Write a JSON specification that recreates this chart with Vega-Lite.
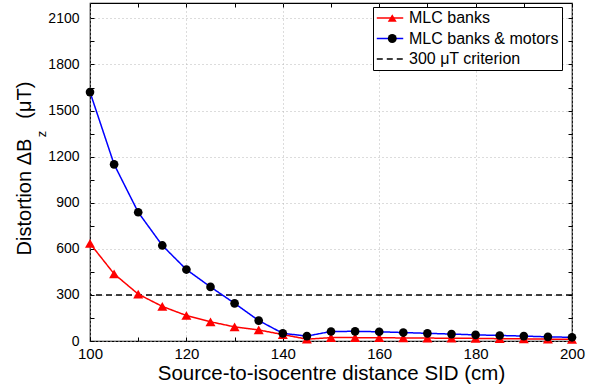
{
  "$schema": "https://vega.github.io/schema/vega-lite/v6.json",
  "width": 482,
  "height": 338,
  "autosize": {"type": "none"},
  "padding": {"left": 90, "top": 3, "right": 26, "bottom": 49},
  "background": "white",
  "config": {
    "font": "Liberation Sans",
    "view": {"stroke": "black", "strokeWidth": 1.2},
    "axis": {
      "domain": false,
      "tickColor": "black",
      "tickWidth": 1,
      "tickSize": -4,
      "labelColor": "black",
      "labelFlush": false,
      "labelFont": "Liberation Sans",
      "titleFont": "Liberation Sans",
      "titleColor": "black",
      "titleFontWeight": "normal",
      "gridColor": "#b8b8b8",
      "gridDash": [1, 3],
      "gridWidth": 1
    }
  },
  "datasets": {
    "sweep": [
      {"sid": 100, "series": "MLC banks", "dz": 635},
      {"sid": 105, "series": "MLC banks", "dz": 437},
      {"sid": 110, "series": "MLC banks", "dz": 305},
      {"sid": 115, "series": "MLC banks", "dz": 225},
      {"sid": 120, "series": "MLC banks", "dz": 166},
      {"sid": 125, "series": "MLC banks", "dz": 125},
      {"sid": 130, "series": "MLC banks", "dz": 92},
      {"sid": 135, "series": "MLC banks", "dz": 72},
      {"sid": 140, "series": "MLC banks", "dz": 42},
      {"sid": 145, "series": "MLC banks", "dz": 12},
      {"sid": 150, "series": "MLC banks", "dz": 22},
      {"sid": 155, "series": "MLC banks", "dz": 22},
      {"sid": 160, "series": "MLC banks", "dz": 21},
      {"sid": 165, "series": "MLC banks", "dz": 20},
      {"sid": 170, "series": "MLC banks", "dz": 19},
      {"sid": 175, "series": "MLC banks", "dz": 18},
      {"sid": 180, "series": "MLC banks", "dz": 17},
      {"sid": 185, "series": "MLC banks", "dz": 15},
      {"sid": 190, "series": "MLC banks", "dz": 14},
      {"sid": 195, "series": "MLC banks", "dz": 12},
      {"sid": 200, "series": "MLC banks", "dz": 11},
      {"sid": 100, "series": "MLC banks & motors", "dz": 1620},
      {"sid": 105, "series": "MLC banks & motors", "dz": 1150},
      {"sid": 110, "series": "MLC banks & motors", "dz": 838},
      {"sid": 115, "series": "MLC banks & motors", "dz": 622},
      {"sid": 120, "series": "MLC banks & motors", "dz": 465},
      {"sid": 125, "series": "MLC banks & motors", "dz": 352},
      {"sid": 130, "series": "MLC banks & motors", "dz": 245},
      {"sid": 135, "series": "MLC banks & motors", "dz": 133},
      {"sid": 140, "series": "MLC banks & motors", "dz": 50},
      {"sid": 145, "series": "MLC banks & motors", "dz": 32},
      {"sid": 150, "series": "MLC banks & motors", "dz": 62},
      {"sid": 155, "series": "MLC banks & motors", "dz": 63},
      {"sid": 160, "series": "MLC banks & motors", "dz": 60},
      {"sid": 165, "series": "MLC banks & motors", "dz": 55},
      {"sid": 170, "series": "MLC banks & motors", "dz": 50},
      {"sid": 175, "series": "MLC banks & motors", "dz": 45},
      {"sid": 180, "series": "MLC banks & motors", "dz": 40},
      {"sid": 185, "series": "MLC banks & motors", "dz": 36},
      {"sid": 190, "series": "MLC banks & motors", "dz": 32},
      {"sid": 195, "series": "MLC banks & motors", "dz": 27},
      {"sid": 200, "series": "MLC banks & motors", "dz": 24}
    ],
    "criterion": [
      {"series": "300 μT criterion", "dz": 300}
    ]
  },
  "resolve": {"axis": {"x": "independent", "y": "independent"}},
  "layer": [
    {
      "data": {"name": "criterion"},
      "mark": {"type": "rule", "strokeWidth": 1.5},
      "encoding": {
        "y": {
          "field": "dz", "type": "quantitative",
          "scale": {"domain": [0, 2200], "nice": false},
          "axis": {
            "orient": "left",
            "values": [0, 150, 300, 450, 600, 750, 900, 1050, 1200, 1350, 1500, 1650, 1800, 1950, 2100],
            "format": "d",
            "labelExpr": "datum.value % 300 === 0 ? datum.label : ''",
            "labelFontSize": 14,
            "labelPadding": 15,
            "grid": true,
            "gridOpacity": {"condition": {"test": "datum.value % 300 === 0", "value": 1}, "value": 0},
            "title": "Distortion ΔB\u2003(μT)",
            "titleFontSize": 20,
            "titleAngle": -90,
            "titleAlign": "center",
            "titleBaseline": "alphabetic",
            "titleX": -60,
            "titleY": 165
          }
        },
        "stroke": {
          "field": "series", "type": "nominal",
          "scale": {"domain": ["MLC banks", "MLC banks & motors", "300 μT criterion"], "range": ["#ff0000", "#0000ff", "#000000"]},
          "legend": {
            "orient": "none", "legendX": 283, "legendY": 4,
            "title": null,
            "strokeColor": "black", "fillColor": "white",
            "padding": 3,
            "symbolType": "stroke", "symbolSize": 700, "symbolStrokeWidth": 1.5,
            "clipHeight": 16, "rowPadding": 4.5,
            "labelFontSize": 16, "labelOffset": 5, "labelColor": "black"
          }
        },
        "strokeDash": {
          "field": "series", "type": "nominal",
          "scale": {"domain": ["MLC banks", "MLC banks & motors", "300 μT criterion"], "range": [[1, 0], [1, 0], [6, 4]]},
          "legend": {
            "orient": "none", "legendX": 283, "legendY": 4,
            "title": null
          }
        }
      }
    },
    {
      "data": {"name": "sweep"},
      "transform": [{"filter": "datum.series === 'MLC banks'"}],
      "mark": {"type": "line", "strokeWidth": 1.5},
      "encoding": {
        "x": {
          "field": "sid", "type": "quantitative",
          "scale": {"domain": [100, 200], "nice": false},
          "axis": {
            "orient": "bottom",
            "values": [100, 110, 120, 130, 140, 150, 160, 170, 180, 190, 200],
            "labelExpr": "datum.value % 20 === 0 ? datum.label : ''",
            "labelFontSize": 15,
            "labelPadding": 9,
            "grid": true,
            "gridOpacity": {"condition": {"test": "datum.value % 20 === 0", "value": 1}, "value": 0},
            "title": "Source-to-isocentre distance SID (cm)",
            "titleFontSize": 20.5,
            "titleAlign": "center",
            "titleBaseline": "alphabetic",
            "titleX": 241,
            "titleY": 38
          }
        },
        "y": {
          "field": "dz", "type": "quantitative",
          "scale": {"domain": [0, 2200], "nice": false},
          "axis": {
            "orient": "left",
            "offset": 0,
            "labels": false, "ticks": false, "grid": false,
            "title": "z",
            "titleFontSize": 13,
            "titleAngle": -90,
            "titleAlign": "center",
            "titleBaseline": "middle",
            "titleX": -49,
            "titleY": 130.5
          }
        },
        "stroke": {"field": "series", "type": "nominal"},
        "strokeDash": {"field": "series", "type": "nominal"}
      }
    },
    {
      "data": {"name": "sweep"},
      "transform": [{"filter": "datum.series === 'MLC banks'"}],
      "mark": {"type": "point", "filled": true, "size": 100, "opacity": 1},
      "encoding": {
        "x": {"field": "sid", "type": "quantitative", "axis": null},
        "y": {"field": "dz", "type": "quantitative", "axis": null},
        "shape": {
          "field": "series", "type": "nominal",
          "scale": {"domain": ["MLC banks", "MLC banks & motors"], "range": ["triangle-up", "circle"]},
          "legend": {
            "orient": "none", "legendX": 283, "legendY": 4,
            "title": null,
            "padding": 3,
            "symbolSize": 80, "symbolStrokeWidth": 0, "symbolOffset": 8.25,
            "clipHeight": 16, "rowPadding": 4.5,
            "labelFontSize": 16, "labelOffset": 5, "labelOpacity": 0
          }
        },
        "fill": {
          "field": "series", "type": "nominal",
          "scale": {"domain": ["MLC banks", "MLC banks & motors"], "range": ["#ff0000", "#000000"]},
          "legend": {
            "orient": "none", "legendX": 283, "legendY": 4,
            "title": null
          }
        }
      }
    },
    {
      "data": {"name": "sweep"},
      "transform": [{"filter": "datum.series === 'MLC banks & motors'"}],
      "mark": {"type": "line", "strokeWidth": 1.5},
      "encoding": {
        "x": {
          "field": "sid", "type": "quantitative",
          "axis": {
            "orient": "top",
            "values": [100, 110, 120, 130, 140, 150, 160, 170, 180, 190, 200],
            "labels": false, "grid": false, "title": null
          }
        },
        "y": {
          "field": "dz", "type": "quantitative",
          "axis": {
            "orient": "right",
            "values": [0, 150, 300, 450, 600, 750, 900, 1050, 1200, 1350, 1500, 1650, 1800, 1950, 2100],
            "labels": false, "grid": false, "title": null
          }
        },
        "stroke": {"field": "series", "type": "nominal"},
        "strokeDash": {"field": "series", "type": "nominal"}
      }
    },
    {
      "data": {"name": "sweep"},
      "transform": [{"filter": "datum.series === 'MLC banks & motors'"}],
      "mark": {"type": "point", "filled": true, "size": 75, "opacity": 1},
      "encoding": {
        "x": {"field": "sid", "type": "quantitative", "axis": null},
        "y": {"field": "dz", "type": "quantitative", "axis": null},
        "shape": {"field": "series", "type": "nominal"},
        "fill": {"field": "series", "type": "nominal"}
      }
    }
  ]
}
